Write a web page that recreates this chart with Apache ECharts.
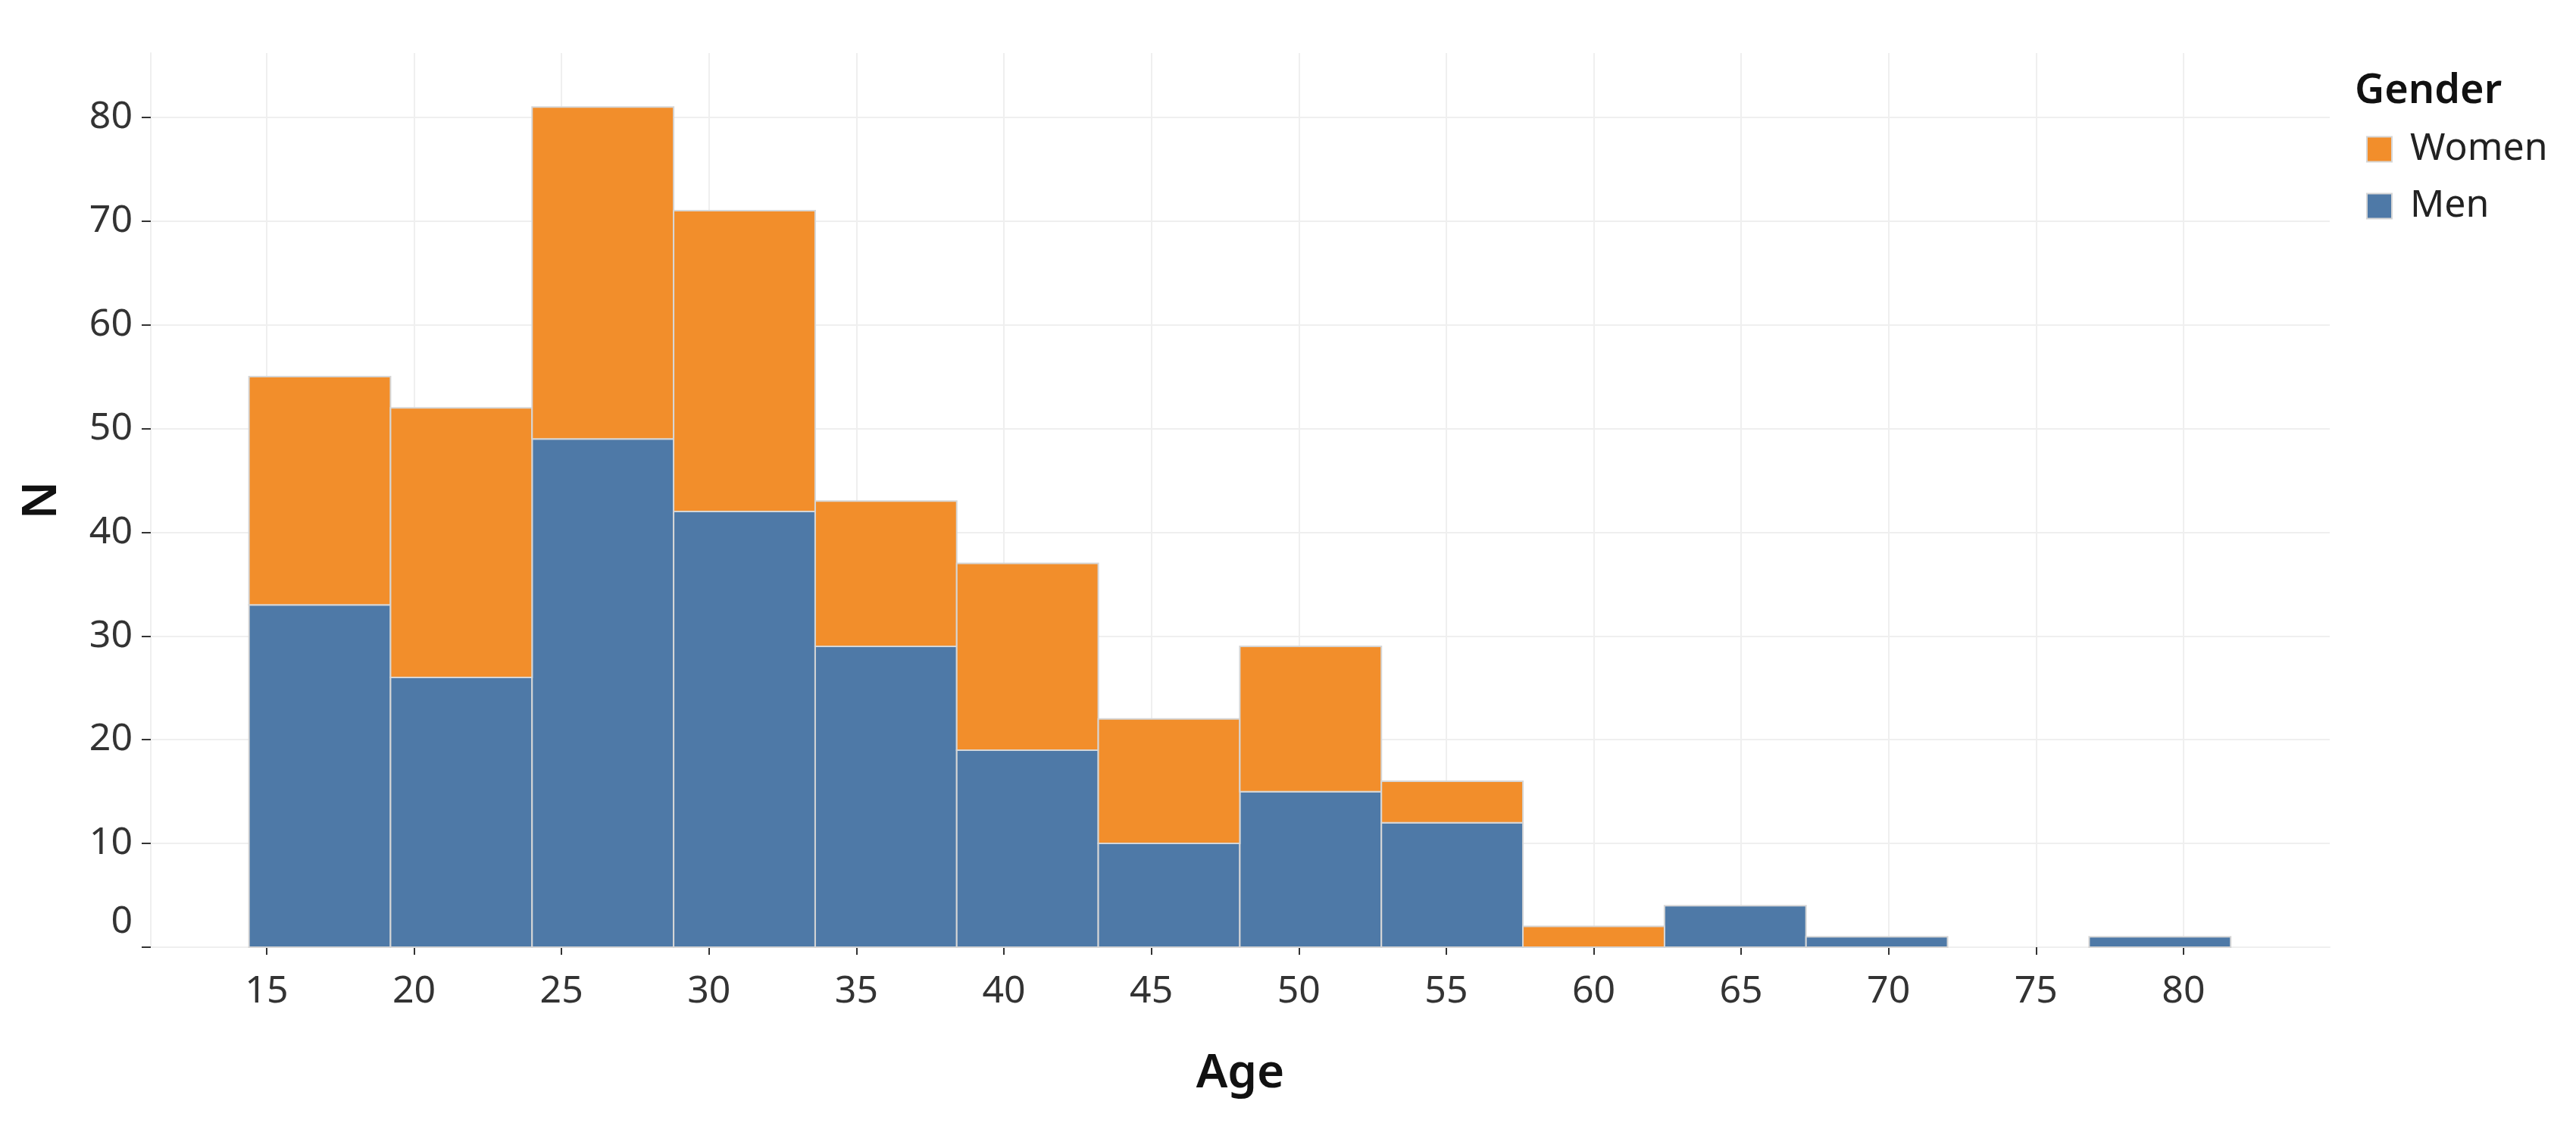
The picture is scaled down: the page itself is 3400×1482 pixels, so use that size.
<!DOCTYPE html>
<html>
<head>
<meta charset="utf-8">
<script src="https://cdn.jsdelivr.net/npm/echarts@6/dist/echarts.min.js"></script>
<style>
html,body{margin:0;padding:0;background:#fff;}
#chart{width:3400px;height:1482px;}
</style>
</head>
<body>
<div id="chart"></div>
<script>
// Histogram bin edges (Age, bin size 4.8)
const binEdges = [14.4, 19.2, 24.0, 28.8, 33.6, 38.4, 43.2, 48.0, 52.8, 57.6, 62.4, 67.2, 72.0, 76.8, 81.6];
// Counts per bin
const men   = [33, 26, 49, 42, 29, 19, 10, 15, 12, 0, 4, 1, 0, 1];
const women = [22, 26, 32, 29, 14, 18, 12, 14, 4, 2, 0, 0, 0, 0];
// Tick labels
const xTicks = [15, 20, 25, 30, 35, 40, 45, 50, 55, 60, 65, 70, 75, 80];
const yTicks = [0, 10, 20, 30, 40, 50, 60, 70, 80];
const seriesNames = ['Women', 'Men'];

const FONT = 'Noto Sans';
const COL_WOMEN = '#F28E2B';
const COL_MEN = '#4E79A7';
const BORDER = '#d6d6d6';
const GRID = '#efefef';

const menData = men.map((v, i) => [binEdges[i], binEdges[i + 1], 0, v]);
const womenData = women.map((v, i) => [binEdges[i], binEdges[i + 1], men[i], men[i] + v]);

function renderBin(params, api) {
  const x0 = api.value(0), x1 = api.value(1), y0 = api.value(2), y1 = api.value(3);
  if (!(y1 > y0)) return null;
  const p0 = api.coord([x0, y1]);
  const p1 = api.coord([x1, y0]);
  const s = api.style();
  return {
    type: 'rect',
    shape: { x: p0[0], y: p0[1], width: p1[0] - p0[0], height: p1[1] - p0[1] },
    style: { fill: s.fill, stroke: BORDER, lineWidth: 2 }
  };
}

const chart = echarts.init(document.getElementById('chart'), null, { renderer: 'canvas' });
chart.setOption({
  backgroundColor: '#ffffff',
  animation: false,
  textStyle: { fontFamily: FONT },
  title: {
    text: 'Gender',
    left: 3108,
    top: 94,
    padding: 0,
    textStyle: { fontFamily: FONT, fontSize: 54, fontWeight: 600, color: '#111' }
  },
  legend: {
    data: seriesNames,
    orient: 'vertical',
    left: 3123,
    top: 172,
    padding: 0,
    icon: 'rect',
    itemWidth: 33,
    itemHeight: 33,
    itemGap: 25,
    textStyle: { fontFamily: FONT, fontSize: 50, color: '#222', padding: [0, 0, 0, 19] },
    itemStyle: { borderColor: BORDER, borderWidth: 2 }
  },
  grid: { left: 199, right: 325, top: 70, bottom: 232, containLabel: false },
  xAxis: {
    type: 'value',
    min: 11.07,
    max: 84.96,
    name: 'Age',
    nameLocation: 'middle',
    nameGap: 136,
    nameTextStyle: { fontFamily: FONT, fontSize: 62, fontWeight: 600, color: '#111' },
    axisLine: { show: true, lineStyle: { color: GRID, width: 2 } },
    axisTick: { show: true, customValues: xTicks, length: 10, lineStyle: { color: '#333', width: 2 } },
    axisLabel: { customValues: xTicks, margin: 34, fontFamily: FONT, fontSize: 50, color: '#333' },
    splitLine: { show: true, lineStyle: { color: GRID, width: 2 } }
  },
  yAxis: {
    type: 'value',
    min: 0,
    max: 86.2,
    name: 'N',
    nameLocation: 'middle',
    nameGap: 111,
    nameTextStyle: { fontFamily: FONT, fontSize: 64, fontWeight: 600, color: '#111' },
    axisLine: { show: true, lineStyle: { color: GRID, width: 2 } },
    axisTick: { show: true, customValues: yTicks, length: 12, lineStyle: { color: '#333', width: 2 } },
    axisLabel: {
      customValues: yTicks,
      margin: 24,
      fontFamily: FONT,
      fontSize: 50,
      color: '#333',
      formatter: function (v) { return v === 0 ? '{z|0}' : String(v); },
      rich: { z: { fontFamily: FONT, fontSize: 50, color: '#333', padding: [0, 0, 66, 0] } }
    },
    splitLine: { show: true, lineStyle: { color: GRID, width: 2 } }
  },
  series: [
    {
      name: 'Men',
      type: 'custom',
      renderItem: renderBin,
      itemStyle: { color: COL_MEN, borderColor: BORDER, borderWidth: 2 },
      encode: { x: [0, 1], y: [2, 3] },
      data: menData,
      z: 2
    },
    {
      name: 'Women',
      type: 'custom',
      renderItem: renderBin,
      itemStyle: { color: COL_WOMEN, borderColor: BORDER, borderWidth: 2 },
      encode: { x: [0, 1], y: [2, 3] },
      data: womenData,
      z: 2
    }
  ]
});
</script>
</body>
</html>
